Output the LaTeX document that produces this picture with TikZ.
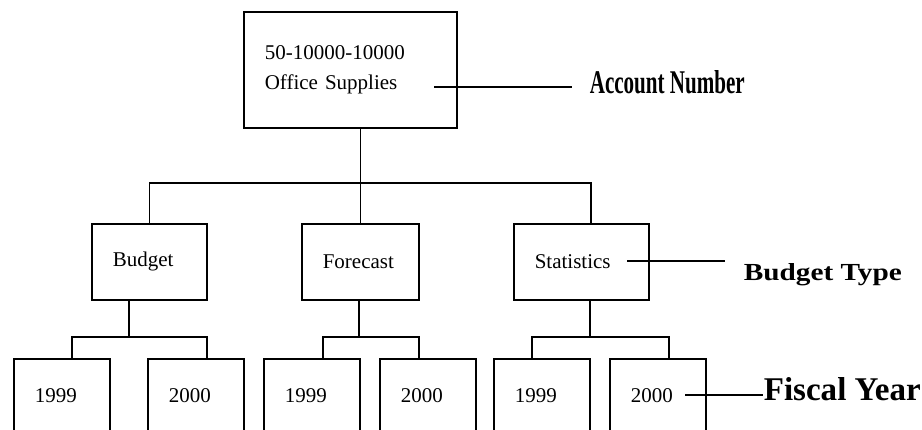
\documentclass[tikz,border=0pt]{standalone}
\usepackage{fontspec}
\setmainfont{Liberation Serif}
\usepackage{graphicx}
\tikzset{
  box/.style={draw,anchor=north west,inner xsep=21pt,inner ysep=0pt,align=left,text width=#1,font=\fontsize{21}{30}\selectfont},
  kind/.style={box=#1,minimum height=76pt},
  yr/.style={box=54pt,minimum height=74pt},
  tag/.style={anchor=base west,inner sep=0pt,font=\bfseries},
}
\begin{document}
\begin{tikzpicture}[x=1pt,y=-1pt,line width=1.6pt]
    \useasboundingbox (0,0) rectangle (922,429);
    \clip (0,0) rectangle (922,429);
    \node[box=171pt,minimum height=116pt] (acct) at (243,11) {50-10000-10000\\Office Supplies};
    \node[kind=73pt] (bud) at (91,223) {Budget};
    \node[kind=75pt] (fc) at (301,223) {Forecast};
    \node[kind=93pt] (stat) at (513,223) {Statistics};
    \node[yr] (b99) at (13,358) {1999};  \node[yr] (b00) at (147,358) {2000};
    \node[yr] (f99) at (263,358) {1999}; \node[yr] (f00) at (379,358) {2000};
    \node[yr] (s99) at (493,358) {1999}; \node[yr] (s00) at (609,358) {2000};
    % tree lines
    \coordinate (hub) at (359,183);
    \draw (acct.south -| fc.north) -- (fc.north);
    \draw (bud.north) |- (hub) -| ([xshift=9.5pt]stat.north);
    \coordinate (bhub) at (129,337); \coordinate (fhub) at (359,337); \coordinate (shub) at (590,337);
    \draw (bud.south -| bhub) -- (bhub); \draw (fc.south -| fhub) -- (fhub); \draw (stat.south -| shub) -- (shub);
    \draw ([xshift=10pt]b99.north) |- (bhub) -| ([xshift=11pt]b00.north);
    \draw ([xshift=11pt]f99.north) |- (fhub) -| ([xshift=-9pt]f00.north);
    \draw ([xshift=-10pt]s99.north) |- (shub) -| ([xshift=11pt]s00.north);
    % level labels
    \node[tag] (acctlbl) at (589,93) {\resizebox{155pt}{23pt}{Account Number}};
    \node[tag] (typelbl) at (743,280) {\resizebox{158pt}{17pt}{Budget Type}};
    \node[tag] (fylbl) at (763,400) {\resizebox{157pt}{23pt}{Fiscal Year}};
    \coordinate (a1) at (434,87); \coordinate (a2) at (572,87);
    \coordinate (t1) at (627,261); \coordinate (t2) at (725,261);
    \coordinate (y1) at (685,395);
    \draw (a1) -- (a2);
    \draw (t1) -- (t2);
    \draw (y1) -- (y1 -| fylbl.west);
\end{tikzpicture}
\end{document}
